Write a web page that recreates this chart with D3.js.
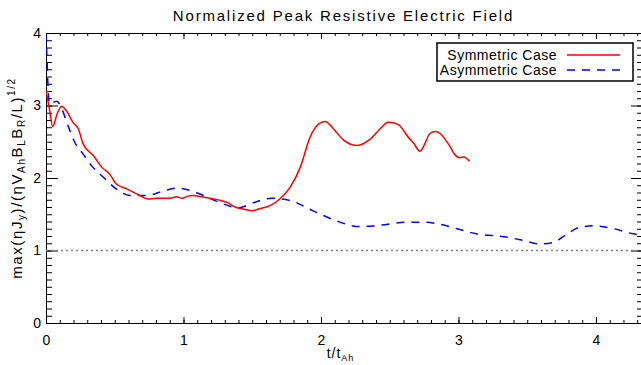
<!DOCTYPE html>
<html>
<head>
<meta charset="utf-8">
<script src="https://cdn.jsdelivr.net/npm/d3@7"></script>
<style>
  body { margin: 0; background: #fff; }
  text { font-family: "Liberation Sans", Arial, sans-serif; fill: #000; }
</style>
</head>
<body>
<div id="chart-area"></div>
<script>
// values
const tSym = [0.000, 0.025, 0.049, 0.08, 0.114, 0.15, 0.199, 0.235, 0.27, 0.344, 0.405, 0.465, 0.509, 0.587,
  0.672, 0.744, 0.80, 0.853, 0.90, 0.95, 0.99, 1.03, 1.07, 1.13, 1.19, 1.27, 1.32, 1.375, 1.44, 1.50, 1.56,
  1.63, 1.70, 1.775, 1.85, 1.92, 1.97, 2.03, 2.09, 2.16, 2.26, 2.36, 2.43, 2.49, 2.56, 2.64, 2.67, 2.72,
  2.76, 2.79, 2.83, 2.87, 2.90, 2.94, 2.97, 3.01, 3.04, 3.08];
const vSym = [3.21, 2.95, 2.71, 2.88, 2.99, 2.92, 2.76, 2.68, 2.47, 2.31, 2.15, 2.05, 1.92, 1.85,
  1.77, 1.71, 1.72, 1.72, 1.72, 1.74, 1.72, 1.75, 1.76, 1.74, 1.72, 1.69, 1.66, 1.60, 1.57, 1.55, 1.58,
  1.62, 1.71, 1.87, 2.15, 2.56, 2.72, 2.78, 2.68, 2.53, 2.45, 2.54, 2.68, 2.77, 2.74, 2.55, 2.49, 2.37,
  2.49, 2.61, 2.64, 2.61, 2.54, 2.43, 2.33, 2.28, 2.29, 2.23];

const tAsym = [0.000, 0.008, 0.016, 0.025, 0.04, 0.06, 0.078, 0.114, 0.16, 0.21, 0.27, 0.34, 0.417, 0.51,
  0.61, 0.73, 0.853, 0.95, 1.047, 1.12, 1.19, 1.265, 1.40, 1.51, 1.64, 1.775, 1.94, 2.11, 2.28, 2.43,
  2.62, 2.74, 2.87, 2.99, 3.13, 3.33, 3.47, 3.59, 3.69, 3.79, 3.88, 3.98, 4.13, 4.27, 4.34];
const vAsym = [4.00, 3.60, 3.20, 3.03, 3.02, 3.05, 3.06, 2.96, 2.72, 2.49, 2.33, 2.15, 2.01, 1.85,
  1.76, 1.76, 1.82, 1.86, 1.83, 1.78, 1.72, 1.66, 1.59, 1.66, 1.72, 1.69, 1.55, 1.41, 1.33, 1.35,
  1.39, 1.39, 1.36, 1.30, 1.23, 1.19, 1.14, 1.09, 1.11, 1.23, 1.32, 1.34, 1.30, 1.23, 1.21];

const xTicks = [0, 1, 2, 3, 4];
const yTicks = [0, 1, 2, 3, 4];
const refLevel = 1;
const seriesNames = ["Symmetric Case", "Asymmetric Case"];

const svgWidth = 641,
      svgHeight = 365;
const margin = {left: 46, right: -2, top: 33, bottom: 42};
const areaWidth = svgWidth - margin.left - margin.right;
const areaHeight = svgHeight - margin.top - margin.bottom;

const svg = d3.select("#chart-area")
  .append("svg")
  .attr("width", svgWidth)
  .attr("height", svgHeight);

const area = svg.append("g")
  .attr("transform", `translate(${margin.left}, ${margin.top})`);

const x = d3.scaleLinear().domain([0, 4.342]).range([0, areaWidth]);
const y = d3.scaleLinear().domain([0, 4]).range([areaHeight, 0]);

svg.append("defs").append("clipPath").attr("id", "clip")
  .append("rect").attr("width", areaWidth).attr("height", areaHeight);

const minorX = d3.range(0, 4.35, 0.1);
const minorY = d3.range(0, 4.01, 0.1);

// IDL style axes: ticks on all four sides, pointing inward
function styleAxis(g) {
  g.selectAll(".domain").attr("stroke", "#000");
  g.selectAll(".tick line").attr("stroke", "#000");
  g.selectAll("text").attr("font-size", "14px").attr("fill", "#000")
    .attr("font-family", "Liberation Sans, Arial, sans-serif");
}

area.append("g").attr("transform", `translate(0, ${areaHeight})`)
  .call(d3.axisBottom(x).tickValues(minorX).tickSize(-3).tickFormat(""))
  .call(styleAxis);
area.append("g").attr("transform", `translate(0, ${areaHeight})`)
  .call(d3.axisBottom(x).tickValues(xTicks).tickSizeInner(-6).tickSizeOuter(0).tickPadding(12).tickFormat(d3.format("d")))
  .call(styleAxis);
area.append("g")
  .call(d3.axisTop(x).tickValues(minorX).tickSize(-3).tickFormat(""))
  .call(styleAxis);
area.append("g")
  .call(d3.axisTop(x).tickValues(xTicks).tickSize(-6).tickFormat(""))
  .call(styleAxis);

area.append("g")
  .call(d3.axisLeft(y).tickValues(minorY).tickSize(-6).tickFormat(""))
  .call(styleAxis);
area.append("g")
  .call(d3.axisLeft(y).tickValues(yTicks).tickSizeInner(-12).tickSizeOuter(0).tickPadding(5).tickFormat(d3.format("d")))
  .call(styleAxis);
area.append("g").attr("transform", `translate(${areaWidth}, 0)`)
  .call(d3.axisRight(y).tickValues(minorY).tickSize(-6).tickFormat(""))
  .call(styleAxis);
area.append("g").attr("transform", `translate(${areaWidth}, 0)`)
  .call(d3.axisRight(y).tickValues(yTicks).tickSize(-12).tickFormat(""))
  .call(styleAxis);

// dotted reference line
area.append("line")
  .attr("x1", 0).attr("x2", areaWidth)
  .attr("y1", y(refLevel)).attr("y2", y(refLevel))
  .attr("stroke", "#808080")
  .attr("stroke-width", 1.5)
  .attr("stroke-dasharray", "2,3");

const line = d3.line()
  .x(d => x(d[0]))
  .y(d => y(d[1]))
  .curve(d3.curveMonotoneX);

const plot = area.append("g").attr("clip-path", "url(#clip)");

plot.append("path")
  .datum(tAsym.map((t, i) => [t, vAsym[i]]))
  .attr("fill", "none")
  .attr("stroke", "#0000ff")
  .attr("stroke-width", 1.5)
  .attr("stroke-dasharray", "8,7")
  .attr("d", line);

plot.append("path")
  .datum(tSym.map((t, i) => [t, vSym[i]]))
  .attr("fill", "none")
  .attr("stroke", "#ff0000")
  .attr("stroke-width", 1.5)
  .attr("d", line);

// title
svg.append("text")
  .attr("x", margin.left + areaWidth / 2 - 1)
  .attr("y", 21)
  .attr("text-anchor", "middle")
  .attr("font-size", "15px")
  .attr("letter-spacing", "1.8px")
  .text("Normalized Peak Resistive Electric Field");

// x label
const xLabel = svg.append("text")
  .attr("x", margin.left + areaWidth / 2 - 4)
  .attr("y", 358)
  .attr("text-anchor", "middle")
  .attr("font-size", "14px")
  .attr("letter-spacing", "1px");
xLabel.append("tspan").text("t/t");
xLabel.append("tspan").attr("font-size", "9px").attr("dy", 3).text("Ah");

// y label
const yLabel = svg.append("text")
  .attr("transform", `translate(22, ${margin.top + areaHeight / 2}) rotate(-90)`)
  .attr("text-anchor", "middle")
  .attr("font-size", "15px")
  .attr("letter-spacing", "1.6px");
yLabel.append("tspan").text("max(ηJ");
yLabel.append("tspan").attr("font-size", "10px").attr("dy", 3).text("y");
yLabel.append("tspan").attr("dy", -3).text(")/(ηV");
yLabel.append("tspan").attr("font-size", "10px").attr("dy", 3).text("Ah");
yLabel.append("tspan").attr("dy", -3).text("B");
yLabel.append("tspan").attr("font-size", "10px").attr("dy", 3).text("L");
yLabel.append("tspan").attr("dy", -3).text("B");
yLabel.append("tspan").attr("font-size", "10px").attr("dy", 3).text("R");
yLabel.append("tspan").attr("dy", -3).text("/L)");
yLabel.append("tspan").attr("font-size", "10px").attr("dy", -7).text("1/2");

// legend
const legend = svg.append("g");
legend.append("rect")
  .attr("x", 437).attr("y", 43)
  .attr("width", 196).attr("height", 38)
  .attr("fill", "#fff")
  .attr("stroke", "#000")
  .attr("stroke-width", 1.5);

const legendStyles = [
  {color: "#ff0000", dash: null},
  {color: "#0000ff", dash: "8,7"}
];
seriesNames.forEach((name, i) => {
  const ly = 55 + i * 15;
  legend.append("text")
    .attr("x", 557).attr("y", ly + 5)
    .attr("text-anchor", "end")
    .attr("font-size", "14px")
    .attr("letter-spacing", "0.5px")
    .text(name);
  legend.append("line")
    .attr("x1", 567).attr("x2", 620)
    .attr("y1", ly).attr("y2", ly)
    .attr("stroke", legendStyles[i].color)
    .attr("stroke-width", 1.5)
    .attr("stroke-dasharray", legendStyles[i].dash);
});
</script>
</body>
</html>
